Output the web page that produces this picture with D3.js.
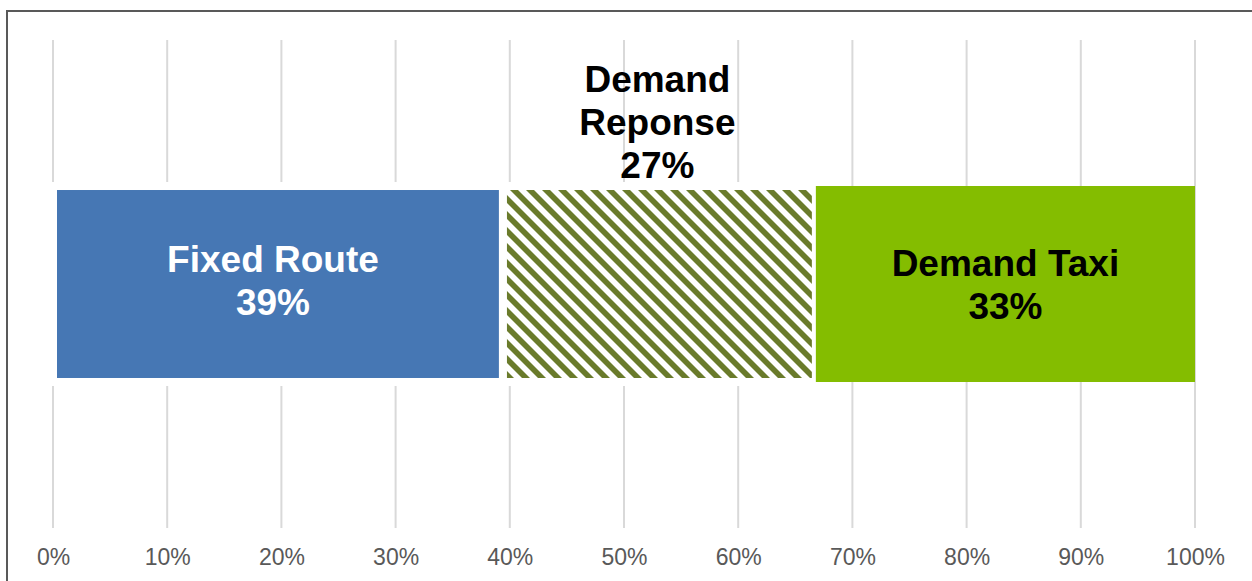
<!DOCTYPE html>
<html>
<head>
<meta charset="utf-8">
<script src="https://cdn.jsdelivr.net/npm/d3@7"></script>
<style>
  html, body { margin: 0; padding: 0; background: #ffffff; }
  svg { display: block; font-family: "Liberation Sans", Arial, sans-serif; }
</style>
</head>
<body>
<svg id="chart" width="1252" height="581"></svg>
<script>
// ---- data ----
const categories = ["Fixed Route", "Demand Reponse", "Demand Taxi"];
const values = [39.4, 27.4, 33.2];
const percentLabels = ["39%", "27%", "33%"];
const labelLines = [["Fixed Route", "39%"], ["Demand", "Reponse", "27%"], ["Demand Taxi", "33%"]];
const tickValues = [0, 10, 20, 30, 40, 50, 60, 70, 80, 90, 100];
const tickLabels = ["0%", "10%", "20%", "30%", "40%", "50%", "60%", "70%", "80%", "90%", "100%"];

// ---- styles ----
const fills = ["#4677b4", "url(#hatch)", "#84bd00"];
const strokes = ["#ffffff", "#ffffff", "none"];
const textColors = ["#ffffff", "#000000", "#000000"];
const olive = "#6a7b2b";

const svg = d3.select("#chart");
const W = 1252, H = 581;

// frame
svg.append("path")
  .attr("d", `M7,${H + 5} V11 H${W + 5}`)
  .attr("fill", "none")
  .attr("stroke", "#595959")
  .attr("stroke-width", 2);

// pattern
const defs = svg.append("defs");
const pat = defs.append("pattern")
  .attr("id", "hatch")
  .attr("patternUnits", "userSpaceOnUse")
  .attr("width", 16).attr("height", 16);
pat.append("rect").attr("width", 16).attr("height", 16).attr("fill", "#ffffff");
pat.append("polygon").attr("points", "0,0 8,0 16,8 16,16").attr("fill", olive);
pat.append("polygon").attr("points", "0,8 8,16 0,16").attr("fill", olive);

// scales
const x = d3.scaleLinear().domain([0, 100]).range([53, 1195]);
const y = d3.scaleBand().domain(["all"]).range([40, 528]).paddingInner(0).paddingOuter(0.745);

// gridlines
svg.append("g").selectAll("line")
  .data(tickValues)
  .join("line")
  .attr("x1", d => x(d)).attr("x2", d => x(d))
  .attr("y1", 40).attr("y2", 528)
  .attr("stroke", "#d9d9d9")
  .attr("stroke-width", 2);

// axis labels
const axis = d3.axisBottom(x).tickValues(tickValues)
  .tickFormat((d, i) => tickLabels[i]).tickSize(0).tickPadding(0);
const gAxis = svg.append("g").attr("transform", "translate(0,548)").call(axis);
gAxis.select(".domain").remove();
gAxis.selectAll("text")
  .attr("dy", null).attr("y", 17)
  .attr("fill", "#595959")
  .attr("font-size", "23px")
  .attr("font-family", "'Liberation Sans', Arial, sans-serif");

// stacked segments
const starts = values.map((v, i) => d3.sum(values.slice(0, i)));
const segs = categories.map((c, i) => ({ c, i, x0: starts[i], x1: starts[i] + values[i] }));

svg.append("g").selectAll("rect")
  .data(segs)
  .join("rect")
  .attr("x", d => x(d.x0))
  .attr("width", d => x(d.x1) - x(d.x0))
  .attr("y", y("all"))
  .attr("height", y.bandwidth())
  .attr("fill", d => fills[d.i])
  .attr("stroke", d => strokes[d.i])
  .attr("stroke-width", 8);

// labels
const yMid = y("all") + y.bandwidth() / 2;
const lineGap = 43;
const labelG = svg.append("g")
  .attr("font-weight", "bold")
  .attr("font-size", "37px")
  .attr("text-anchor", "middle");

segs.forEach(d => {
  const lines = labelLines[d.i];
  const cx = (x(d.x0) + x(d.x1)) / 2;
  let firstBaseline, dx = 0;
  if (d.i === 1) {
    firstBaseline = y("all") - 8 - (lines.length - 1) * lineGap;
    dx = -2;
  } else if (d.i === 0) {
    firstBaseline = yMid - 12; dx = -5;
  } else {
    firstBaseline = yMid - 8;
  }
  lines.forEach((t, k) => {
    labelG.append("text")
      .attr("x", cx + dx)
      .attr("y", firstBaseline + k * lineGap)
      .attr("fill", textColors[d.i])
      .text(t);
  });
});
</script>
</body>
</html>
